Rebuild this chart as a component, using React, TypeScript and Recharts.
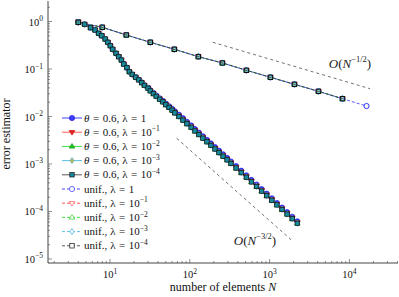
import {
  ComposedChart,
  Line,
  XAxis,
  YAxis,
  ReferenceLine,
  ReferenceDot,
  Legend,
} from "recharts";

// number of elements for the adaptive runs (shared by all lambda)
const adaptiveN = [
  4, 4.8, 5.7, 6.5, 7.2, 7.9, 8.7, 9.4, 10.1, 10.8, 11.9, 12.9, 13.9, 14.9, 16.3, 17.5,
  19, 21, 23, 25, 27, 30, 32, 35, 38, 42, 46, 50, 55, 60, 65,
  73, 82, 92, 104, 116, 130, 146, 164, 184, 207, 232, 261, 293, 328,
  380, 441, 511, 592, 685, 794, 920, 1066, 1234, 1430, 1657, 1919, 2224,
];

// error estimator, adaptive, lambda = 1
const adaptiveErrLam0 = [
  0.97, 0.873, 0.74, 0.662, 0.564, 0.502, 0.428, 0.365, 0.309, 0.26, 0.214, 0.1815, 0.1547, 0.1274, 0.1065, 0.0877,
  0.0769, 0.0675, 0.0595, 0.0522, 0.046, 0.0404, 0.0356, 0.0313, 0.0276, 0.0241, 0.0213, 0.0187, 0.0164, 0.0145, 0.0128,
  0.0109, 0.00922, 0.00773, 0.00649, 0.00545, 0.00458, 0.00384, 0.00322, 0.00271, 0.00227, 0.00191, 0.0016, 0.00134, 0.00113,
  0.000903, 0.000723, 0.000578, 0.000462, 0.00037, 0.000296, 0.000237, 0.000189, 0.000151, 0.000121, 0.000097, 0.0000776, 0.000062,
];

// adaptive, lambda = 1e-1
const adaptiveErrLam1 = [
  0.97, 0.873, 0.74, 0.662, 0.564, 0.502, 0.428, 0.365, 0.309, 0.26, 0.214, 0.1815, 0.1547, 0.1274, 0.1065, 0.0877,
  0.0769, 0.0673, 0.0591, 0.0517, 0.0454, 0.0397, 0.0349, 0.0305, 0.0268, 0.0234, 0.0206, 0.018, 0.0158, 0.0138, 0.0122,
  0.0104, 0.00872, 0.00731, 0.00614, 0.00515, 0.00433, 0.00363, 0.00305, 0.00256, 0.00215, 0.0018, 0.00151, 0.00127, 0.00107,
  0.000854, 0.000683, 0.000546, 0.000437, 0.000349, 0.00028, 0.000224, 0.000179, 0.000143, 0.000115, 0.0000917, 0.0000733, 0.0000587,
];

// adaptive, lambda = 1e-2 ... 1e-4 (on top of each other)
const adaptiveErrSmallLam = [
  0.97, 0.873, 0.74, 0.662, 0.564, 0.502, 0.428, 0.365, 0.309, 0.26, 0.214, 0.1815, 0.1547, 0.1274, 0.1065, 0.0877,
  0.0769, 0.0672, 0.0589, 0.0514, 0.0451, 0.0394, 0.0346, 0.0302, 0.0265, 0.0231, 0.0203, 0.0177, 0.0155, 0.01355, 0.01188,
  0.00998, 0.00838, 0.00703, 0.0059, 0.00495, 0.00416, 0.00349, 0.00293, 0.00246, 0.002065, 0.001734, 0.001456, 0.001222, 0.001026,
  0.000821, 0.000657, 0.000525, 0.00042, 0.000336, 0.000269, 0.000215, 0.000172, 0.0001377, 0.0001102, 0.0000882, 0.0000705, 0.0000564,
];

// uniform refinement
const uniformN = [4, 8, 16, 32, 64, 128, 256, 512, 1024, 2048, 4096, 8192, 16384];
const uniformErrLam0 = [0.962, 0.755, 0.52, 0.365, 0.26, 0.182, 0.134, 0.0939, 0.0669, 0.0476, 0.0339, 0.0237, 0.0166];
const uniformErrOther = [0.962, 0.755, 0.52, 0.365, 0.26, 0.182, 0.134, 0.0939, 0.0669, 0.0476, 0.0339, 0.0237];

const lambdaExps = ["", "−1", "−2", "−3", "−4"];

// rate triangles: O(N^-1/2) and O(N^-3/2)
const rateHalf = [
  { x: 194, y: 0.365 },
  { x: 18100, y: 0.0385 },
];
const rateThreeHalf = [
  { x: 68.5, y: 0.00348 },
  { x: 1982, y: 0.0000231 },
];

const xDecades = [1, 10, 100, 1000, 10000];
const yDecades = [0.00001, 0.0001, 0.001, 0.01, 0.1, 1];
const mantissas = [1, 2, 3, 4, 5, 6, 7, 8, 9];

const X_DOMAIN: [number, number] = [1.671, 40640];
const Y_DOMAIN: [number, number] = [8.235e-6, 2.702];

const xTicks = xDecades
  .flatMap((d) => mantissas.map((m) => m * d))
  .filter((v) => v >= X_DOMAIN[0] && v <= X_DOMAIN[1]);
const yTicks = yDecades
  .flatMap((d) => mantissas.map((m) => m * d))
  .filter((v) => v >= Y_DOMAIN[0] && v <= Y_DOMAIN[1]);

const FONT = "'Liberation Serif', 'DejaVu Serif', serif";
const AXIS = "#444";

const adaptiveStyles = [
  { color: "#2e2eff", fill: "#3d3dff", edge: "#2020e0", marker: "circle" },
  { color: "#ff4545", fill: "#e52222", edge: "#d01010", marker: "down" },
  { color: "#2fdc2f", fill: "#22c022", edge: "#18a018", marker: "up" },
  { color: "#4bb6e6", fill: "#c8b43c", edge: "#4bb6e6", marker: "diamond" },
  { color: "#444444", fill: "#178a9c", edge: "#111111", marker: "square" },
];
const uniformEdges = ["#3030ff", "#ff5a5a", "#2fcf2f", "#3aa8e0", "#111111"];
const adaptiveErrs = [adaptiveErrLam0, adaptiveErrLam1, adaptiveErrSmallLam, adaptiveErrSmallLam, adaptiveErrSmallLam];

const isMajor = (v: number) => Math.abs(Math.log10(v) - Math.round(Math.log10(v))) < 1e-9;
const expOf = (v: number) => {
  const k = Math.round(Math.log10(v));
  return k < 0 ? `−${-k}` : `${k}`;
};

function Marker({ kind, cx, cy, fill, stroke, sw = 0.7 }: any) {
  if (cx == null || cy == null) return null;
  if (kind === "circle") return <circle cx={cx} cy={cy} r={2.6} fill={fill} stroke={stroke} strokeWidth={sw} />;
  if (kind === "square")
    return <rect x={cx - 2.2} y={cy - 2.2} width={4.4} height={4.4} fill={fill} stroke={stroke} strokeWidth={sw} />;
  let pts = "";
  if (kind === "down") pts = `${cx - 2.8},${cy - 1.7} ${cx + 2.8},${cy - 1.7} ${cx},${cy + 2.9}`;
  if (kind === "up") pts = `${cx - 2.8},${cy + 1.7} ${cx + 2.8},${cy + 1.7} ${cx},${cy - 2.9}`;
  if (kind === "diamond") pts = `${cx},${cy - 3} ${cx + 2},${cy} ${cx},${cy + 3} ${cx - 2},${cy}`;
  return <polygon points={pts} fill={fill} stroke={stroke} strokeWidth={sw} />;
}

function Pow10({ x, y, exp, anchor }: any) {
  return (
    <text x={x} y={y} textAnchor={anchor} fontSize={10.5} fontFamily={FONT} fill="#111">
      10
      <tspan dy={-4.5} fontSize={7.5}>
        {exp}
      </tspan>
    </text>
  );
}

function BottomTick({ x, y, payload }: any) {
  const major = isMajor(payload.value);
  return (
    <g>
      <line x1={x} x2={x} y1={y} y2={y - (major ? 4 : 2)} stroke={AXIS} strokeWidth={0.6} />
      {major && <Pow10 x={x} y={y + 15} exp={expOf(payload.value)} anchor="middle" />}
    </g>
  );
}
function TopTick({ x, y, payload }: any) {
  const major = isMajor(payload.value);
  return <line x1={x} x2={x} y1={y} y2={y + (major ? 4 : 2)} stroke={AXIS} strokeWidth={0.6} />;
}
function LeftTick({ x, y, payload }: any) {
  const major = isMajor(payload.value);
  return (
    <g>
      <line x1={x} x2={x + (major ? 4 : 2)} y1={y} y2={y} stroke={AXIS} strokeWidth={0.6} />
      {major && <Pow10 x={x - 5} y={y + 4} exp={expOf(payload.value)} anchor="end" />}
    </g>
  );
}
function RightTick({ x, y, payload }: any) {
  const major = isMajor(payload.value);
  return <line x1={x} x2={x - (major ? 4 : 2)} y1={y} y2={y} stroke={AXIS} strokeWidth={0.6} />;
}

function RateLabel({ cx, cy, exp }: any) {
  return (
    <text x={cx} y={cy + 3.5} textAnchor="middle" fontSize={13} fontFamily={FONT} fill="#222">
      <tspan fontStyle="italic">O</tspan>(<tspan fontStyle="italic">N</tspan>
      <tspan dy={-5.5} fontSize={8.5}>
        {exp}
      </tspan>
      <tspan dy={5.5}>)</tspan>
    </text>
  );
}

function LegendBox() {
  const rowH = 14.2;
  const rows = [
    ...adaptiveStyles.map((s, i) => ({ s, i, unif: false })),
    ...adaptiveStyles.map((s, i) => ({ s, i, unif: true })),
  ];
  return (
    <svg width={130} height={150} style={{ display: "block" }}>
      {rows.map(({ s, i, unif }, r) => {
        const cy = 7 + r * rowH;
        return (
          <g key={r}>
            <line
              x1={4}
              x2={24}
              y1={cy}
              y2={cy}
              stroke={s.color}
              strokeWidth={0.9}
              strokeDasharray={unif ? "3 2" : undefined}
            />
            <Marker
              kind={s.marker}
              cx={14}
              cy={cy}
              fill={unif ? "#fff" : s.fill}
              stroke={unif ? uniformEdges[i] : s.edge}
            />
            <text x={26} y={cy + 3.6} fontSize={11} fontFamily={FONT} fill="#111">
              {unif ? (
                <tspan>unif.,</tspan>
              ) : (
                <>
                  <tspan fontStyle="italic">θ</tspan>
                  <tspan dx={3.5}>=</tspan>
                  <tspan dx={3.5}>0.6,</tspan>
                </>
              )}
              <tspan dx={3}>λ</tspan>
              <tspan dx={3.5}>=</tspan>
              <tspan dx={3.5}>{lambdaExps[i] === "" ? "1" : "10"}</tspan>
              {lambdaExps[i] !== "" && (
                <tspan dy={-4.5} fontSize={7.5}>
                  {lambdaExps[i]}
                </tspan>
              )}
            </text>
          </g>
        );
      })}
    </svg>
  );
}

export default function App() {
  return (
    <div style={{ position: "absolute", left: 0, top: 0, width: 399, height: 297, background: "#fff" }}>
      <ComposedChart width={399} height={297} margin={{ top: 1, right: 1, left: 0, bottom: 0 }}>
        <XAxis
          dataKey="n"
          type="number"
          scale="log"
          domain={X_DOMAIN}
          allowDataOverflow
          ticks={xTicks}
          interval={0}
          height={34}
          tickSize={0}
          tickMargin={0}
          tickLine={false}
          tick={<BottomTick />}
          axisLine={{ stroke: AXIS, strokeWidth: 1 }}
          label={{
            content: ({ viewBox }: any) => (
              <text
                x={viewBox.x + viewBox.width / 2}
                y={viewBox.y + 28}
                textAnchor="middle"
                fontSize={12}
                fontFamily={FONT}
                fill="#111"
              >
                number of elements <tspan fontStyle="italic">N</tspan>
              </text>
            ),
          }}
        />
        <XAxis
          xAxisId="top"
          orientation="top"
          dataKey="n"
          type="number"
          scale="log"
          domain={X_DOMAIN}
          allowDataOverflow
          ticks={xTicks}
          interval={0}
          height={0}
          tickSize={0}
          tickMargin={0}
          tickLine={false}
          tick={<TopTick />}
          axisLine={{ stroke: AXIS, strokeWidth: 1 }}
        />
        <YAxis
          type="number"
          scale="log"
          domain={Y_DOMAIN}
          allowDataOverflow
          ticks={yTicks}
          interval={0}
          width={48}
          tickSize={0}
          tickMargin={0}
          tickLine={false}
          tick={<LeftTick />}
          axisLine={{ stroke: AXIS, strokeWidth: 1 }}
          label={{
            content: ({ viewBox }: any) => {
              const cx = viewBox.x + 10;
              const cy = viewBox.y + viewBox.height / 2 + 2;
              return (
                <text
                  x={cx}
                  y={cy}
                  transform={`rotate(-90 ${cx} ${cy})`}
                  textAnchor="middle"
                  fontSize={12}
                  fontFamily={FONT}
                  fill="#111"
                >
                  error estimator
                </text>
              );
            },
          }}
        />
        <YAxis
          yAxisId="right"
          orientation="right"
          type="number"
          scale="log"
          domain={Y_DOMAIN}
          allowDataOverflow
          ticks={yTicks}
          interval={0}
          width={0}
          tickSize={0}
          tickMargin={0}
          tickLine={false}
          tick={<RightTick />}
          axisLine={{ stroke: AXIS, strokeWidth: 1 }}
        />

        <ReferenceLine segment={rateHalf} stroke="#333" strokeWidth={0.7} strokeDasharray="3 3" ifOverflow="visible" />
        <ReferenceLine
          segment={rateThreeHalf}
          stroke="#333"
          strokeWidth={0.7}
          strokeDasharray="3 3"
          ifOverflow="visible"
        />
        <ReferenceDot
          x={10170}
          y={0.1274}
          r={0}
          ifOverflow="visible"
          shape={(p: any) => <RateLabel cx={p.cx} cy={p.cy} exp="−1/2" />}
        />
        <ReferenceDot
          x={656}
          y={0.0000239}
          r={0}
          ifOverflow="visible"
          shape={(p: any) => <RateLabel cx={p.cx} cy={p.cy} exp="−3/2" />}
        />

        {adaptiveStyles.map((s, i) => (
          <Line
            key={`a${i}`}
            name={`adaptive ${i}`}
            data={adaptiveN.map((n, j) => ({ n, e: adaptiveErrs[i][j] }))}
            dataKey="e"
            stroke={s.color}
            strokeWidth={0.8}
            isAnimationActive={false}
            activeDot={false}
            dot={(p: any) => (
              <Marker key={`a${i}-${p.index}`} kind={s.marker} cx={p.cx} cy={p.cy} fill={s.fill} stroke={s.edge} />
            )}
          />
        ))}
        {adaptiveStyles.map((s, i) => {
          const errs = i === 0 ? uniformErrLam0 : uniformErrOther;
          return (
            <Line
              key={`u${i}`}
              name={`uniform ${i}`}
              data={errs.map((e, j) => ({ n: uniformN[j], e }))}
              dataKey="e"
              stroke={i === 4 ? "#222" : s.color}
              strokeWidth={0.8}
              strokeDasharray="3 2"
              strokeDashoffset={i === 0 ? 0 : 2.5}
              isAnimationActive={false}
              activeDot={false}
              dot={(p: any) => (
                <Marker
                  key={`u${i}-${p.index}`}
                  kind={s.marker}
                  cx={p.cx}
                  cy={p.cy}
                  fill="none"
                  stroke={uniformEdges[i]}
                  sw={1}
                />
              )}
            />
          );
        })}
        <Legend
          layout="vertical"
          align="center"
          verticalAlign="middle"
          content={() => <LegendBox />}
          wrapperStyle={{ left: 58, top: 111, width: 130, height: 150 }}
        />
      </ComposedChart>
    </div>
  );
}
